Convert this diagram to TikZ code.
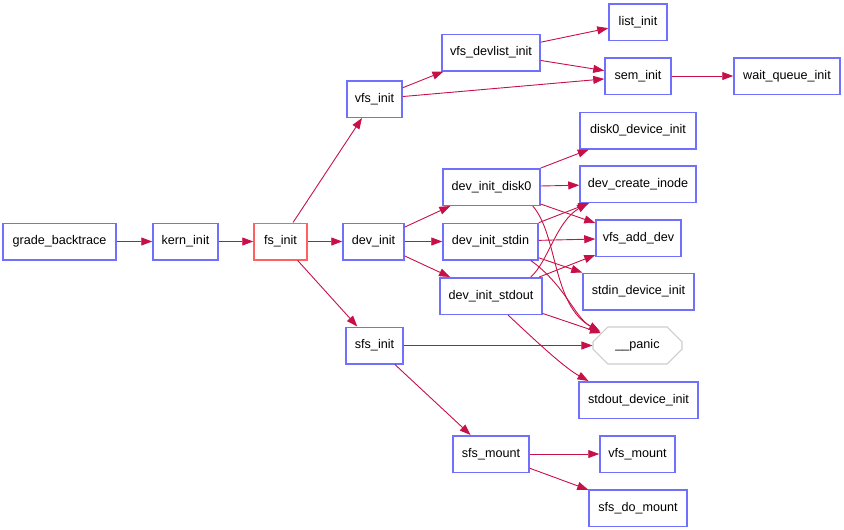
\documentclass[tikz,border=0pt]{standalone}
\usepackage{fontspec}
\setmainfont{Liberation Sans}
\usetikzlibrary{arrows.meta,shapes.misc}
\definecolor{boxblue}{RGB}{112,112,255}
\definecolor{edgec}{RGB}{200,16,72}
\definecolor{boxred}{RGB}{255,96,96}
\definecolor{panicgray}{RGB}{205,205,205}
\begin{document}
\begin{tikzpicture}[x=1pt,y=-1pt,
  fn/.style={draw=boxblue,line width=1.5pt,fill=white,minimum height=36.5pt,inner sep=0pt,
    font=\fontsize{12.6}{14}\selectfont},
  callee/.style={fn,draw=boxred},
  ext/.style={chamfered rectangle,chamfered rectangle xsep=14pt,chamfered rectangle ysep=9pt,
    draw=panicgray,line width=1.1pt,fill=white,minimum width=89pt,minimum height=37pt,inner sep=0pt,
    font=\fontsize{12.6}{14}\selectfont},
  call/.style={draw=edgec,line width=0.9pt,-{Triangle[length=11pt,width=8pt]}}]
\useasboundingbox (0,0) rectangle (844,530);
% nodes
\node[fn,minimum width=113pt] (gb) at (59.5,241.5) {grade\_backtrace};
\node[fn,minimum width=65pt] (ki) at (185.5,241.5) {kern\_init};
\node[callee,minimum width=53pt] (fs) at (280.5,241.5) {fs\_init};
\node[fn,minimum width=61pt] (di) at (373.5,241.5) {dev\_init};
\node[fn,minimum width=55pt] (vi) at (374.5,99) {vfs\_init};
\node[fn,minimum width=98pt] (vdl) at (491,52.5) {vfs\_devlist\_init};
\node[fn,minimum width=58pt] (li) at (638,22) {list\_init};
\node[fn,minimum width=66pt] (si) at (638,76) {sem\_init};
\node[fn,minimum width=106pt] (wqi) at (787,76) {wait\_queue\_init};
\node[fn,minimum width=116pt] (d0di) at (638,130.5) {disk0\_device\_init};
\node[fn,minimum width=116pt] (dci) at (638,184) {dev\_create\_inode};
\node[fn,minimum width=97pt] (dd0) at (491.5,187) {dev\_init\_disk0};
\node[fn,minimum width=85pt] (vad) at (638.5,238) {vfs\_add\_dev};
\node[fn,minimum width=95pt] (dstdin) at (490.5,241.5) {dev\_init\_stdin};
\node[fn,minimum width=111pt] (sindi) at (638.5,291.5) {stdin\_device\_init};
\node[fn,minimum width=102pt] (dstdout) at (491,296) {dev\_init\_stdout};
\node[ext] (panic) at (637.5,345.5) {\_\_panic};
\node[fn,minimum width=57pt] (sfsi) at (374.5,345.5) {sfs\_init};
\node[fn,minimum width=119pt] (soutdi) at (638.5,400) {stdout\_device\_init};
\node[fn,minimum width=76pt] (sfsm) at (491,454) {sfs\_mount};
\node[fn,minimum width=75pt] (vm) at (637.5,454) {vfs\_mount};
\node[fn,minimum width=98pt] (sdm) at (638,508) {sfs\_do\_mount};
% edges
\draw[call] (gb) -- (ki);
\draw[call] (ki) -- (fs);
\draw[call] (fs) -- (vi);
\draw[call] (fs) -- (di);
\draw[call] (fs) -- (sfsi);
\draw[call] (vi) -- (vdl);
\draw[call] (vi) -- (si);
\draw[call] (vdl) -- (li);
\draw[call] (vdl) -- (si);
\draw[call] (si) -- (wqi);
\draw[call] (di) -- (dd0);
\draw[call] (di) -- (dstdin);
\draw[call] (di) -- (dstdout);
\draw[call] (dd0) -- (d0di);
\draw[call] (dd0) -- (dci);
\draw[call] (dd0) -- (vad);
\draw[call] ([xshift=-8pt]dd0.south east) .. controls (558,235) and (552,305) .. ([shift={(-37.5,5)}]panic.north);
\draw[call] (dstdin) -- (dci);
\draw[call] (dstdin) -- (vad);
\draw[call] (dstdin) -- (sindi);
\draw[call] ([xshift=-8pt]dstdin.south east) .. controls (565,285) and (575,318) .. ([shift={(-37.5,5)}]panic.north);
\draw[call] ([xshift=-12pt]dstdout.north east) .. controls (548,262) and (556,222) .. ([xshift=-50pt]dci.south);
\draw[call] (dstdout) -- (vad);
\draw[call] (dstdout) -- (panic);
\draw[call] ([xshift=17pt]dstdout.south) .. controls (540,345) and (565,368) .. ([xshift=-50pt]soutdi.north);
\draw[call] (sfsi) -- (panic);
\draw[call] (sfsi) -- (sfsm);
\draw[call] (sfsm) -- (vm);
\draw[call] (sfsm) -- (sdm);
\end{tikzpicture}
\end{document}
